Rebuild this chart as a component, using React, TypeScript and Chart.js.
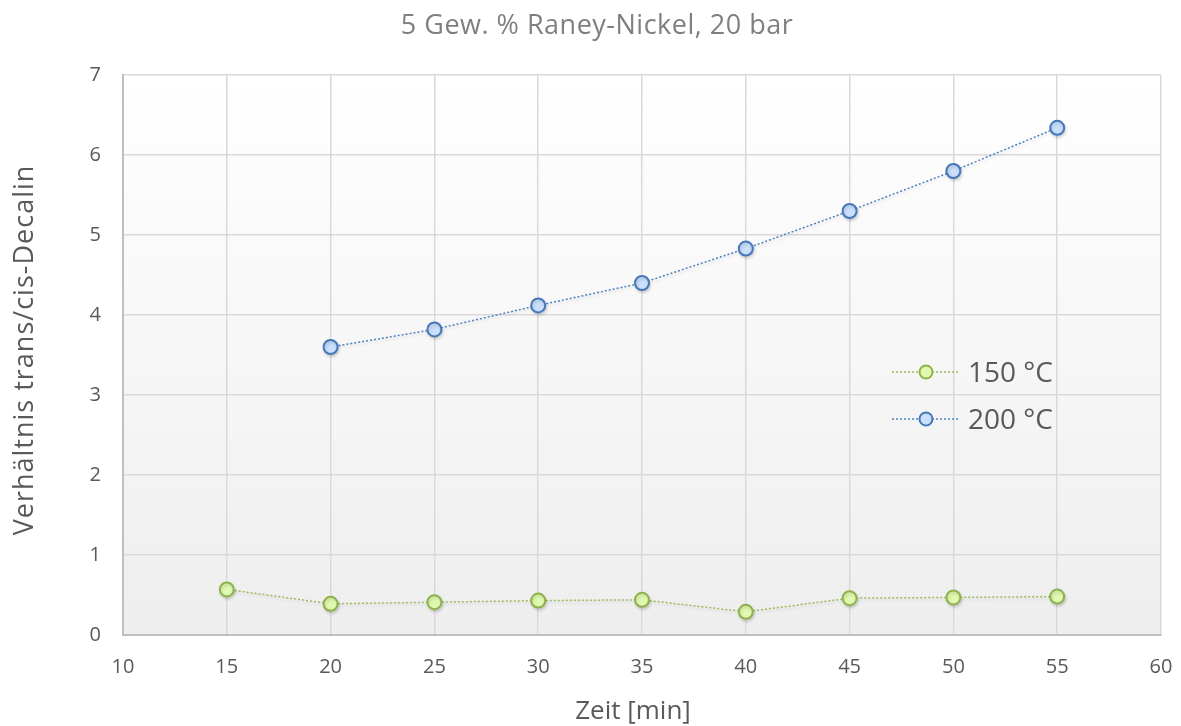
import React, { useEffect, useRef } from "react";
import { Chart, registerables } from "chart.js";

Chart.register(...registerables);

const times150 = [15, 20, 25, 30, 35, 40, 45, 50, 55];
const ratio150 = [0.57, 0.39, 0.41, 0.43, 0.44, 0.29, 0.46, 0.47, 0.48];
const times200 = [20, 25, 30, 35, 40, 45, 50, 55];
const ratio200 = [3.6, 3.82, 4.12, 4.4, 4.83, 5.3, 5.8, 6.34];
const seriesLabels = ["150 °C", "200 °C"];
const chartTitle = "5 Gew. % Raney-Nickel, 20 bar";
const xTitle = "Zeit [min]";
const yTitle = "Verhältnis trans/cis-Decalin";

const FONT = "'Open Sans', 'Noto Sans', sans-serif";

const bgPlugin = {
  id: "plotBg",
  beforeDraw(chart: any) {
    const { ctx, chartArea } = chart;
    if (!chartArea) return;
    const g = ctx.createLinearGradient(0, chartArea.top, 0, chartArea.bottom);
    g.addColorStop(0, "#ffffff");
    g.addColorStop(1, "#eeeeee");
    ctx.save();
    ctx.fillStyle = g;
    ctx.fillRect(chartArea.left, chartArea.top, chartArea.right - chartArea.left, chartArea.bottom - chartArea.top);
    ctx.restore();
  },
  beforeDatasetsDraw(chart: any) {
    const { ctx } = chart;
    ctx.save();
    ctx.shadowColor = "rgba(0,0,0,0.14)";
    ctx.shadowBlur = 3;
    ctx.shadowOffsetX = 1;
    ctx.shadowOffsetY = 2;
  },
  afterDatasetsDraw(chart: any) {
    chart.ctx.restore();
  },
};

const textPlugin = {
  id: "texts",
  afterDraw(chart: any) {
    const { ctx } = chart;
    ctx.save();
    ctx.textAlign = "center";
    ctx.textBaseline = "alphabetic";
    ctx.fillStyle = "#7f7f7f";
    ctx.font = `27px ${FONT}`;
    (ctx as any).letterSpacing = "0.5px";
    ctx.fillText(chartTitle, 597, 34);
    ctx.fillStyle = "#595959";
    ctx.font = `26px ${FONT}`;
    (ctx as any).letterSpacing = "0px";
    ctx.fillText(xTitle, 633, 719);
    ctx.font = `27px ${FONT}`;
    (ctx as any).letterSpacing = "1px";
    ctx.translate(33, 350);
    ctx.rotate(-Math.PI / 2);
    ctx.fillText(yTitle, 0, 0);
    ctx.restore();
  },
};

const legendPlugin = {
  id: "innerLegend",
  afterDraw(chart: any) {
    const { ctx } = chart;
    const x0 = 892;
    const ys = [372, 419];
    ctx.save();
    chart.data.datasets.forEach((ds: any, i: number) => {
      const y = ys[i];
      ctx.strokeStyle = ds.borderColor;
      ctx.lineWidth = 1.5;
      ctx.setLineDash([2, 2]);
      ctx.beginPath();
      ctx.moveTo(x0, y);
      ctx.lineTo(x0 + 67, y);
      ctx.stroke();
      ctx.setLineDash([]);
      ctx.beginPath();
      ctx.arc(x0 + 34, y, 6.5, 0, Math.PI * 2);
      ctx.fillStyle = ds.pointBackgroundColor;
      ctx.fill();
      ctx.lineWidth = 2;
      ctx.strokeStyle = ds.pointBorderColor;
      ctx.stroke();
      ctx.fillStyle = "#595959";
      ctx.font = `28px ${FONT}`;
      ctx.textBaseline = "alphabetic";
      ctx.textAlign = "left";
      ctx.fillText(ds.label, 968, y + 10);
    });
    ctx.restore();
  },
};

export default function App() {
  const ref = useRef<HTMLCanvasElement>(null);
  useEffect(() => {
    if (!ref.current) return;
    const chart = new Chart(ref.current, {
      type: "line",
      data: {
        datasets: [
          {
            label: seriesLabels[0],
            data: times150.map((t, i) => ({ x: t, y: ratio150[i] })),
            borderColor: "#9bbb59",
            borderWidth: 1.5,
            borderDash: [2, 2],
            pointRadius: 7,
            pointBorderWidth: 2,
            pointBackgroundColor: "#e0f9b0",
            pointBorderColor: "#8eb24b",
          },
          {
            label: seriesLabels[1],
            data: times200.map((t, i) => ({ x: t, y: ratio200[i] })),
            borderColor: "#4f81bd",
            borderWidth: 1.5,
            borderDash: [2, 2],
            pointRadius: 7,
            pointBorderWidth: 2,
            pointBackgroundColor: "#cadffb",
            pointBorderColor: "#4677b8",
          },
        ],
      },
      options: {
        animation: false,
        responsive: false,
        layout: { padding: { top: 75, right: 20, left: 0, bottom: 0 } },
        plugins: {
          legend: { display: false },
          tooltip: { enabled: false },
          title: { display: false },
        },
        scales: {
          x: {
            type: "linear",
            min: 10,
            max: 60,
            afterFit(scale: any) {
              scale.height = 91;
              scale.paddingLeft = 0;
              scale.paddingRight = 0;
            },
            ticks: { stepSize: 5, color: "#595959", font: { family: FONT, size: 20 }, padding: 20 },
            grid: { color: "#d9d9d9", lineWidth: 1.5, drawTicks: false },
            border: { color: "#bfbfbf", width: 2 },
          },
          y: {
            min: 0,
            max: 7,
            afterFit(scale: any) {
              scale.width = 123;
              scale.paddingTop = 0;
              scale.paddingBottom = 0;
            },
            ticks: { stepSize: 1, color: "#595959", font: { family: FONT, size: 20 }, padding: 22 },
            grid: { color: "#d9d9d9", lineWidth: 1.5, drawTicks: false },
            border: { color: "#bfbfbf", width: 2 },
          },
        },
      },
      plugins: [bgPlugin, textPlugin, legendPlugin],
    });
    return () => chart.destroy();
  }, []);
  return (
    <div style={{ position: "fixed", left: 0, top: 0, width: 1181, height: 726, background: "#fff" }}>
      <canvas ref={ref} width={1181} height={726} />
    </div>
  );
}
